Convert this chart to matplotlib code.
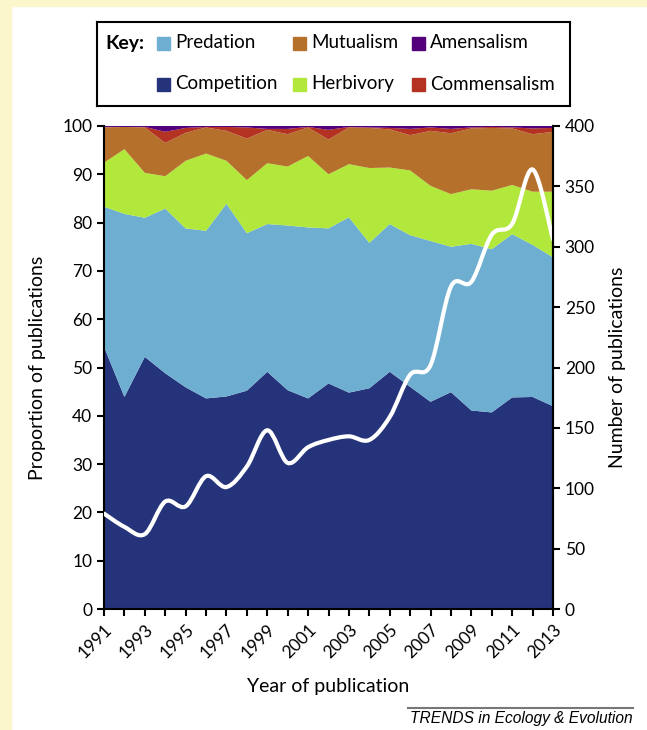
import matplotlib
matplotlib.use('Agg')
import matplotlib.pyplot as plt
from matplotlib.path import Path
from matplotlib.patches import PathPatch, Rectangle
import numpy as np

years = np.arange(1991, 2014)

# proportions of publications (%) per interaction type
competition = [54.3, 43.9, 52.2, 48.8, 45.9, 43.6, 44.0, 45.2, 49.1, 45.3, 43.6, 46.7,
               44.8, 45.7, 49.1, 46.0, 42.9, 44.9, 41.1, 40.7, 43.8, 43.9, 42.0]
predation = [29.0, 37.9, 28.8, 34.1, 32.9, 34.7, 39.9, 32.6, 30.6, 34.1, 35.4, 32.1,
             36.3, 30.1, 30.6, 31.4, 33.3, 30.1, 34.5, 33.8, 33.8, 31.5, 30.8]
herbivory = [9.1, 13.4, 9.3, 6.7, 14.0, 16.0, 8.9, 11.0, 12.6, 12.2, 14.8, 11.2,
             11.0, 15.5, 11.7, 13.4, 11.4, 10.9, 11.3, 12.1, 10.2, 11.0, 13.6]
mutualism = [7.3, 4.6, 9.4, 6.9, 5.8, 5.4, 6.2, 8.6, 6.9, 6.7, 5.9, 7.2,
             7.6, 8.3, 7.9, 7.3, 11.4, 12.6, 12.6, 13.0, 11.7, 11.9, 12.4]
commensalism = [0.1, 0.0, 0.1, 2.3, 1.0, 0.1, 0.8, 2.3, 0.2, 1.1, 0.1, 2.0,
                0.1, 0.1, 0.3, 1.3, 0.7, 0.9, 0.2, 0.2, 0.2, 1.2, 0.8]
amensalism = [0.2, 0.2, 0.2, 1.2, 0.4, 0.2, 0.2, 0.3, 0.6, 0.6, 0.2, 0.8,
              0.2, 0.3, 0.4, 0.6, 0.3, 0.6, 0.3, 0.2, 0.3, 0.5, 0.4]

# total number of publications per year
n_pubs = [79, 68, 62, 89, 85, 110, 101, 118, 148, 121, 134, 140,
          143, 140, 159, 194, 202, 267, 271, 310, 319, 364, 306]

names = ['Competition', 'Predation', 'Herbivory', 'Mutualism', 'Commensalism', 'Amensalism']
colors = ['#25347A', '#6DAED1', '#B1E83B', '#B5712B', '#B33222', '#55007B']

plt.rcParams['font.family'] = ['Lato', 'DejaVu Sans']

fig = plt.figure(figsize=(6.47, 7.3), dpi=100)

# pale yellow page border
fig.patches.append(Rectangle((0, 0), 11 / 647, 1, transform=fig.transFigure,
                             color='#FBF6CC', zorder=0))
fig.patches.append(Rectangle((0, 1 - 6 / 730), 1, 6 / 730, transform=fig.transFigure,
                             color='#FBF6CC', zorder=0))

ax = fig.add_axes([104 / 647, 121 / 730, 449 / 647, 483 / 730])
ax.stackplot(years, competition, predation, herbivory, mutualism, commensalism, amensalism,
             colors=colors, linewidth=0)
ax.set_xlim(1991, 2013)
ax.set_ylim(0, 100)
ax.set_yticks(range(0, 101, 10))
ax.set_xticks(years)
ax.set_xticklabels([str(y) if (y - 1991) % 2 == 0 else '' for y in years],
                   rotation=45, ha='right', va='top', rotation_mode='anchor')
ax.tick_params(axis='both', direction='out', length=5, width=1.5, labelsize=12.5, colors='black')
ax.tick_params(axis='x', pad=4)
ax.set_ylabel('Proportion of publications', fontsize=14, labelpad=12)
ax.set_xlabel('Year of publication', fontsize=14, labelpad=12)
for s in ax.spines.values():
    s.set_linewidth(1.5)
ax.spines['top'].set_visible(False)

ax2 = ax.twinx()
ax2.set_ylim(0, 400)
ax2.set_yticks(range(0, 401, 50))
ax2.tick_params(axis='y', direction='out', length=5, width=1.5, labelsize=12.5)
ax2.set_ylabel('Number of publications', fontsize=14, labelpad=10)
for s in ax2.spines.values():
    s.set_visible(False)
ax2.spines['right'].set_visible(True)
ax2.spines['right'].set_linewidth(1.5)

# smoothed line (Catmull-Rom style bezier, like spreadsheet "smoothed line")
pts = np.column_stack([years, n_pubs]).astype(float)
ext = np.vstack([pts[0], pts, pts[-1]])
verts = [tuple(pts[0])]
codes = [Path.MOVETO]
for i in range(len(pts) - 1):
    p0, p1, p2, p3 = ext[i], ext[i + 1], ext[i + 2], ext[i + 3]
    c1 = p1 + (p2 - p0) / 6
    c2 = p2 - (p3 - p1) / 6
    verts += [tuple(c1), tuple(c2), tuple(p2)]
    codes += [Path.CURVE4] * 3
ax2.add_patch(PathPatch(Path(verts, codes), facecolor='none', edgecolor='white',
                        lw=3, capstyle='round', clip_on=True))

# key box
kax = fig.add_axes([97 / 647, 1 - 106 / 730, 473 / 647, 84 / 730])
kax.set_xlim(0, 473)
kax.set_ylim(84, 0)
kax.set_xticks([])
kax.set_yticks([])
for s in kax.spines.values():
    s.set_linewidth(1.5)
kax.text(8, 21, 'Key:', fontsize=14, fontweight='bold', va='center', ha='left')
key_items = [('Predation', 1, 0, 0), ('Mutualism', 3, 1, 0), ('Amensalism', 5, 2, 0),
             ('Competition', 0, 0, 1), ('Herbivory', 2, 1, 1), ('Commensalism', 4, 2, 1)]
col_x = [60, 196, 315]
row_y = [21, 62]
for label, ci, col, row in key_items:
    kax.add_patch(Rectangle((col_x[col], row_y[row] - 6.5), 13, 13, color=colors[ci]))
    kax.text(col_x[col] + 18, row_y[row], label, fontsize=13.5, va='center', ha='left')

# journal footer
fig.add_artist(plt.Line2D([408 / 647, 633 / 647], [1 - 708 / 730] * 2,
                          color='#777777', lw=1.5, transform=fig.transFigure))
fig.text(633 / 647, 1 - 718 / 730, 'TRENDS in Ecology & Evolution', ha='right', va='center',
         fontsize=11.2, style='italic', family=['Liberation Sans', 'DejaVu Sans'])

fig.savefig('out.png', dpi=100)
